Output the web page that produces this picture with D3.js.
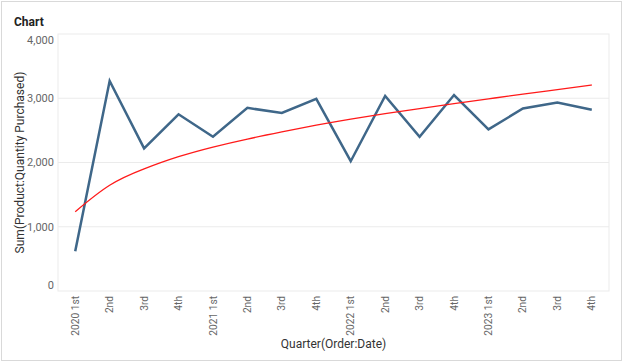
<!DOCTYPE html>
<html>
<head>
<meta charset="utf-8">
<script src="https://cdn.jsdelivr.net/npm/d3@7"></script>
<style>
  body { margin: 0; background: #fff; }
  svg { display: block; font-family: Roboto, "Noto Sans", sans-serif; }
</style>
</head>
<body>
<div class="chart"></div>
<script>
const quarters = ['2020 1st', '2nd', '3rd', '4th', '2021 1st', '2nd', '3rd', '4th',
  '2022 1st', '2nd', '3rd', '4th', '2023 1st', '2nd', '3rd', '4th'];
const quantity = [620, 3270, 2220, 2750, 2400, 2850, 2770, 2990,
  2020, 3035, 2400, 3050, 2515, 2840, 2935, 2820];
// trend line
const trend = [1234, 1645, 1900, 2090, 2240, 2365, 2475, 2580,
  2675, 2760, 2840, 2915, 2990, 3065, 3135, 3206];
const yTicks = [0, 1000, 2000, 3000, 4000];

const chartWidth = 624;
const chartHeight = 363;
const margin = { left: 58, right: 15, top: 34, bottom: 72 };
const width = chartWidth - margin.left - margin.right;
const height = chartHeight - margin.top - margin.bottom;

const root = d3.select('.chart')
  .append('svg')
  .attr('width', chartWidth)
  .attr('height', chartHeight);

// card border
root.append('rect')
  .attr('x', 1.5).attr('y', 1.5)
  .attr('width', chartWidth - 4).attr('height', chartHeight - 4)
  .attr('fill', 'none')
  .attr('stroke', '#d9d9d9');

root.append('text')
  .attr('x', 14).attr('y', 26)
  .attr('font-size', '12px')
  .attr('font-weight', 'bold')
  .attr('fill', '#222')
  .text('Chart');

const svg = root.append('g')
  .attr('transform', `translate(${margin.left}, ${margin.top})`);

const xScale = d3.scalePoint()
  .domain(d3.range(quarters.length))
  .range([0, width])
  .padding(0.5);

const yScale = d3.scaleLinear()
  .domain([0, 4000])
  .range([height, 0]);

// gridlines
svg.append('g')
  .selectAll('line')
  .data(yTicks.slice(1, -1))
  .enter()
  .append('line')
  .attr('x1', 0).attr('x2', width)
  .attr('y1', d => yScale(d)).attr('y2', d => yScale(d))
  .attr('stroke', '#ebebeb');

svg.append('rect')
  .attr('width', width)
  .attr('height', height)
  .attr('fill', 'none')
  .attr('stroke', '#ebebeb');

// y axis labels (edge labels kept inside the plot)
svg.append('g')
  .selectAll('text')
  .data(yTicks)
  .enter()
  .append('text')
  .attr('x', -4)
  .attr('y', d => Math.min(Math.max(yScale(d), 6), height - 6))
  .attr('dy', '0.35em')
  .attr('text-anchor', 'end')
  .attr('font-size', '11px')
  .attr('fill', '#666')
  .text(d => d3.format(',')(d));

root.append('text')
  .attr('transform', `translate(24, ${margin.top + height / 2}) rotate(-90)`)
  .attr('text-anchor', 'middle')
  .attr('font-size', '12px')
  .attr('fill', '#333')
  .text('Sum(Product:Quantity Purchased)');

// x axis labels
svg.append('g')
  .selectAll('text')
  .data(quarters)
  .enter()
  .append('text')
  .attr('transform', (d, i) => `translate(${xScale(i)}, ${height + 5}) rotate(-90)`)
  .attr('dy', '0.35em')
  .attr('text-anchor', 'end')
  .attr('font-size', '10.2px')
  .attr('fill', '#666')
  .text(d => d);

root.append('text')
  .attr('x', margin.left + width / 2)
  .attr('y', 348)
  .attr('text-anchor', 'middle')
  .attr('font-size', '12px')
  .attr('fill', '#333')
  .text('Quarter(Order:Date)');

const line = d3.line()
  .x((d, i) => xScale(i))
  .y(d => yScale(d));

svg.append('path')
  .datum(quantity)
  .attr('d', line)
  .attr('fill', 'none')
  .attr('stroke', '#3f6789')
  .attr('stroke-width', 2.5)
  .attr('stroke-linejoin', 'miter');

svg.append('path')
  .datum(trend)
  .attr('d', line.curve(d3.curveNatural))
  .attr('fill', 'none')
  .attr('stroke', '#ff1a1a')
  .attr('stroke-width', 1.3);
</script>
</body>
</html>
